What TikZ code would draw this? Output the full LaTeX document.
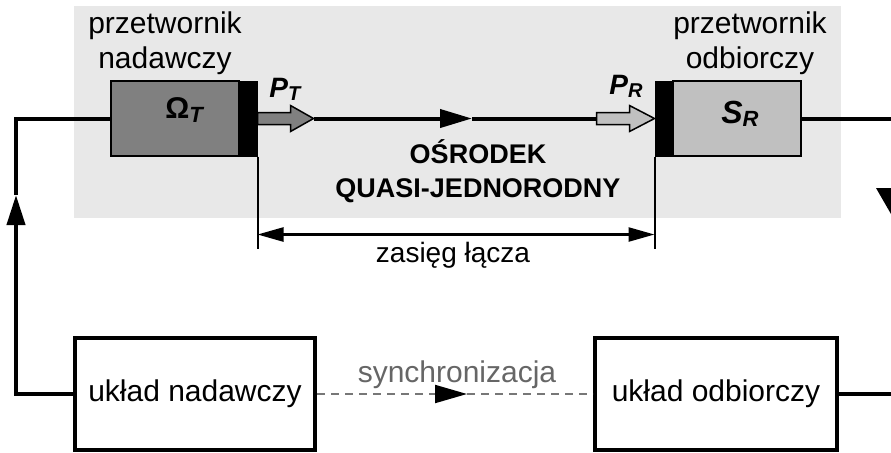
\documentclass[tikz,border=0pt]{standalone}
\usepackage{fontspec}
\setmainfont{Liberation Sans}
\usetikzlibrary{arrows.meta,calc}
\definecolor{bgg}{HTML}{E8E8E8}
\definecolor{darkbox}{HTML}{808080}
\definecolor{lightbox}{HTML}{C0C0C0}
\definecolor{syncgray}{HTML}{666666}
\definecolor{dashgray}{HTML}{777777}
\newcommand\twolines[2]{\begin{tabular}[t]{@{}c@{}}#1\\#2\end{tabular}}
\newcommand\lowsub[3]{\raisebox{-#1}{\fontsize{#2}{#2}\selectfont\bfseries\itshape #3}}
\begin{document}
\begin{tikzpicture}[x=0.5pt,y=-0.5pt,
  conn/.style={line width=2pt},
  thinbox/.style={draw=black, line width=0.75pt, inner sep=0pt, minimum height=37.5pt},
  barbox/.style={fill=black, draw=black, line width=0.5pt, inner sep=0pt, minimum width=9pt, minimum height=37.5pt},
  unit/.style={draw=black, line width=2pt, inner sep=0pt, minimum height=56pt, font=\fontsize{15}{18}\selectfont},
  blockarr/.style={draw=black, line width=0.75pt},
  dimline/.style={line width=1.25pt},
  tickline/.style={line width=1pt},
  dashline/.style={draw=dashgray, line width=1pt, dash pattern=on 4pt off 3pt},
  midtri/.style={-{Triangle[length=16pt,width=9pt]}},
  lbl/.style={inner sep=0pt, font=\fontsize{15}{17.5}\selectfont}
]
\useasboundingbox (0,0) rectangle (891,452);
\fill[bgg] (74,6) rectangle (841,218);

% transducers
\node[thinbox, fill=darkbox, minimum width=64pt] (txbox) at (175,118.5) {};
\node[barbox] (txbar) at (248,118.5) {};
\node[barbox] (rxbar) at (664,118.5) {};
\node[thinbox, fill=lightbox, minimum width=64pt] (rxbox) at (737,118.5) {};

\node[anchor=base west, inner sep=0pt] (omega) at (165,118) {\fontsize{15}{18}\selectfont\bfseries Ω\lowsub{2pt}{11}{T}};
\node[anchor=base west, inner sep=0pt] (sr) at (721,123) {\fontsize{16}{19}\selectfont\bfseries\itshape S\lowsub{1.5pt}{11}{R}};
\node[anchor=base west, inner sep=0pt] (pt) at (269,97) {\fontsize{14}{17}\selectfont\bfseries\itshape P\lowsub{1.5pt}{10}{T}};
\node[anchor=base west, inner sep=0pt] (pr) at (609,94) {\fontsize{14}{17}\selectfont\bfseries\itshape P\lowsub{1.5pt}{10}{R}};

\node[lbl, anchor=base] (lblT) at (165,33) {\twolines{przetwornik}{nadawczy}};
\node[lbl, anchor=base] (lblR) at (750,33) {\twolines{przetwornik}{odbiorczy}};

\node[inner sep=0pt, anchor=base, font=\fontsize{13.5}{17}\selectfont\bfseries] (medium) at (478,163) {\twolines{OŚRODEK}{QUASI-JEDNORODNY}};

% block arrows
\coordinate (ptip) at ($(txbar.east)+(56,0)$);
\filldraw[blockarr, fill=darkbox] ($(txbar.east)+(0,-6)$) -- ++(33,0) -- ++(0,-7) -- (ptip)
  -- ($(txbar.east)+(33,13)$) -- ++(0,-7) -- ($(txbar.east)+(0,6)$) -- cycle;
\coordinate (prtail) at ($(rxbar.west)+(-58,0)$);
\filldraw[blockarr, fill=lightbox] ($(prtail)+(0,-6)$) -- ++(33,0) -- ++(0,-7) -- (rxbar.west)
  -- ($(prtail)+(33,13)$) -- ++(0,-7) -- ($(prtail)+(0,6)$) -- cycle;

% medium line
\coordinate (midtip) at (472,118.5);
\draw[conn, midtri] (ptip) -- (midtip);
\draw[conn] (midtip) -- (prtail);

% right outputs
\coordinate (rEnd) at (891,118.5);
\draw[conn] (rxbox.east) -- (rEnd);

% range dimension
\coordinate (tickL) at ($(txbar.south east)+(0,92)$);
\coordinate (tickR) at ($(rxbar.south west)+(0,92)$);
\draw[tickline] (txbar.south east) -- (tickL);
\draw[tickline] (rxbar.south west) -- (tickR);
\coordinate (dimL) at ($(txbar.south east)+(0,78)$);
\coordinate (dimR) at ($(rxbar.south west)+(0,78)$);
\draw[dimline, {Triangle[length=13pt,width=7pt]}-{Triangle[length=13pt,width=7pt]}] (dimL) -- (dimR);
\node[inner sep=0pt, anchor=base, font=\fontsize{14}{17}\selectfont] (range) at (453,262) {zasięg łącza};

% units
\node[unit, minimum width=120pt] (unad) at (195,394) {układ nadawczy};
\node[unit, minimum width=121pt] (uodb) at (716,394) {układ odbiorczy};

% feedback loop
\coordinate (uptip) at (16,195);
\coordinate (tl) at (16,118.5);
\draw[conn, -{Triangle[length=15pt,width=9pt]}] (unad.west) -| (uptip);
\draw[conn] (uptip) -- (tl) -- (txbox.west);

% synchronisation
\coordinate (synctip) at (467,394);
\draw[dashline, -{Triangle[length=16pt,width=9pt,color=black,fill=black]}] (unad.east) -- (synctip);
\draw[dashline] (synctip) -- (uodb.west);
\node[inner sep=0pt, anchor=base, text=syncgray, font=\fontsize{15}{18}\selectfont] (sync) at (457,382) {synchronizacja};

\coordinate (bEnd) at (891,394);
\draw[conn] (uodb.east) -- (bEnd);

% cut-off shape at right edge
\fill[black] (876,188) -- (906,188) -- (891,214) -- cycle;
\end{tikzpicture}
\end{document}
